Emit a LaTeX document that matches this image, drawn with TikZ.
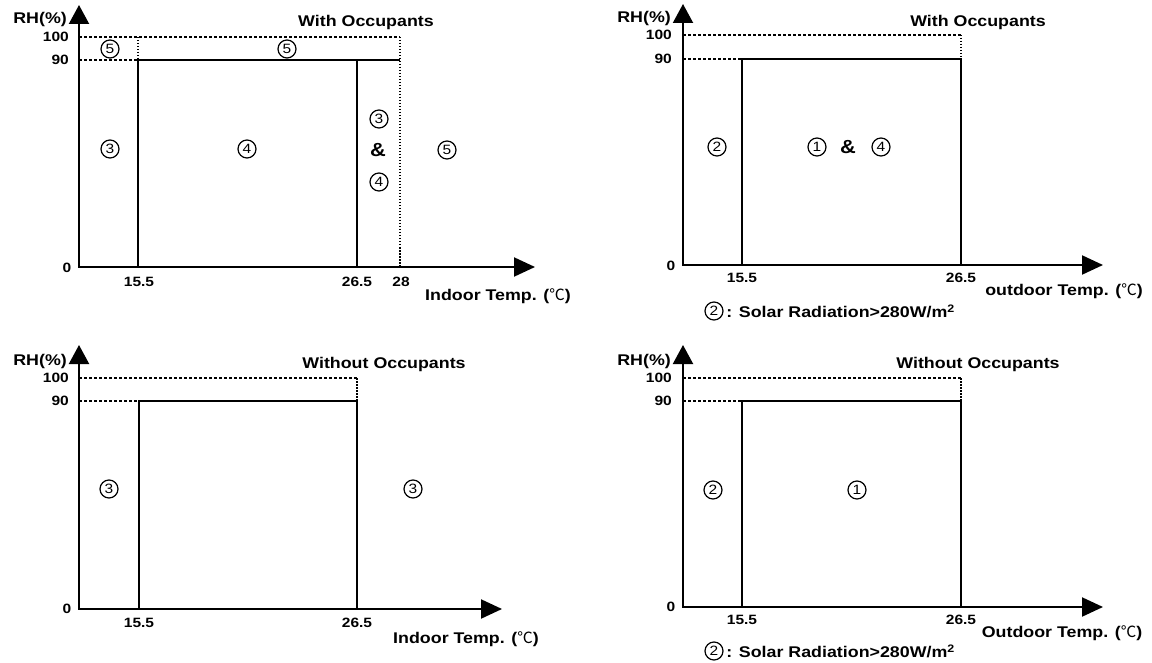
\documentclass[tikz,border=0pt]{standalone}
\usepackage{fontspec}
\setmainfont{Liberation Sans}[FakeStretch=1.15]
\newfontfamily\cjk{Noto Sans CJK SC}
\usetikzlibrary{arrows.meta}
\newcommand{\degC}{{\cjk\mdseries ℃}}
\begin{document}
\begin{tikzpicture}[x=1pt,y=-1pt,
  axis/.style={line width=2.1pt,{Triangle[length=19pt,width=20pt]}-{Triangle[length=21pt,width=19pt]}},
  box/.style={line width=2.1pt},
  guide/.style={line width=1.5pt,dash pattern=on 3pt off 2pt},
  dotline/.style={line width=1.6pt,dash pattern=on 1.5pt off 1.5pt},
  lbl/.style={font=\bfseries\fontsize{15.5}{16}\selectfont,inner sep=0pt},
  num/.style={font=\bfseries\fontsize{13.5}{14}\selectfont,inner sep=0pt},
  zone/.style={circle,draw,line width=1.2pt,minimum size=18pt,inner sep=0pt,font=\fontsize{13.5}{14}\selectfont},
  amp/.style={font=\bfseries\fontsize{19}{20}\selectfont,inner sep=0pt}]
\useasboundingbox (0,0) rectangle (1152,663);

% ---------- indoor, with occupants ----------
\coordinate (Ao) at (79,267);
\coordinate (Ay) at (79,5);
\coordinate (Ax) at (535,267);
\draw[guide] (79,37) -- (400,37);
\draw[guide] (79,60) -- (138,60);
\draw[dotline] (138,37) -- (138,60);
\draw[dotline] (400,37) -- (400,267);
\draw[box] (138,267) -- (138,60) -- (400,60);
\draw[box] (357,60) -- (357,267);
\draw[axis] (Ay) -- (Ao) -- (Ax);
\node[lbl,anchor=east] (Arh) at (67,19) {RH(\%)};
\node[num,anchor=east] (A100) at (69,37) {100};
\node[num,anchor=east] (A90) at (69,60) {90};
\node[num] (A0) at (67,268) {0};
\node[num] (A155) at (139,282) {15.5};
\node[num] (A265) at (357,282) {26.5};
\node[num] (A28) at (401,282) {28};
\node[lbl] (Axl) at (498,296) {Indoor Temp. (\degC)};
\node[lbl] (Ath) at (366,22) {With Occupants};
\node[zone] (Az1) at (110,49) {5};
\node[zone] (Az2) at (287,49) {5};
\node[zone] (Az3) at (110,149) {3};
\node[zone] (Az4) at (247,149) {4};
\node[zone] (Az5) at (379,119) {3};
\node[amp] (Aamp) at (378,150) {\&};
\node[zone] (Az6) at (379,182) {4};
\node[zone] (Az7) at (447,150) {5};

% ---------- outdoor, with occupants ----------
\coordinate (Bo) at (683,265);
\coordinate (By) at (683,4);
\coordinate (Bx) at (1103,265);
\draw[guide] (683,35) -- (961,35);
\draw[guide] (683,59) -- (742,59);
\draw[dotline] (961,35) -- (961,59);
\draw[box] (742,265) -- (742,59) -- (961,59) -- (961,265);
\draw[axis] (By) -- (Bo) -- (Bx);
\node[lbl,anchor=east] (Brh) at (671,18) {RH(\%)};
\node[num,anchor=east] (B100) at (672,35) {100};
\node[num,anchor=east] (B90) at (672,59) {90};
\node[num] (B0) at (671,266) {0};
\node[num] (B155) at (742,278) {15.5};
\node[num] (B265) at (961,278) {26.5};
\node[lbl] (Bxl) at (1064,291) {outdoor Temp. (\degC)};
\node[lbl] (Bth) at (978,22) {With Occupants};
\node[zone] (Bz1) at (717,147) {2};
\node[zone] (Bz2) at (817,147) {1};
\node[amp] (Bamp) at (848,147) {\&};
\node[zone] (Bz3) at (881,147) {4};
\node[zone] (Bnz) at (714,311) {2};
\node[lbl,anchor=west] (Bnote) at (Bnz.east) {\,: Solar Radiation>280W/m\textsuperscript{2}};

% ---------- indoor, without occupants ----------
\coordinate (Co) at (79,609);
\coordinate (Cy) at (79,345);
\coordinate (Cx) at (502,609);
\draw[guide] (79,378) -- (357,378);
\draw[guide] (79,401) -- (139,401);
\draw[dotline] (357,378) -- (357,401);
\draw[box] (139,609) -- (139,401) -- (357,401) -- (357,609);
\draw[axis] (Cy) -- (Co) -- (Cx);
\node[lbl,anchor=east] (Crh) at (67,361) {RH(\%)};
\node[num,anchor=east] (C100) at (69,378) {100};
\node[num,anchor=east] (C90) at (69,401) {90};
\node[num] (C0) at (67,609) {0};
\node[num] (C155) at (139,623) {15.5};
\node[num] (C265) at (357,623) {26.5};
\node[lbl] (Cxl) at (466,639) {Indoor Temp. (\degC)};
\node[lbl] (Cth) at (384,364) {Without Occupants};
\node[zone] (Cz1) at (109,489) {3};
\node[zone] (Cz2) at (413,489) {3};

% ---------- outdoor, without occupants ----------
\coordinate (Do) at (683,607);
\coordinate (Dy) at (683,345);
\coordinate (Dx) at (1103,607);
\draw[guide] (683,378) -- (961,378);
\draw[guide] (683,401) -- (742,401);
\draw[dotline] (961,378) -- (961,401);
\draw[box] (742,607) -- (742,401) -- (961,401) -- (961,607);
\draw[axis] (Dy) -- (Do) -- (Dx);
\node[lbl,anchor=east] (Drh) at (671,361) {RH(\%)};
\node[num,anchor=east] (D100) at (672,378) {100};
\node[num,anchor=east] (D90) at (672,401) {90};
\node[num] (D0) at (671,607) {0};
\node[num] (D155) at (742,620) {15.5};
\node[num] (D265) at (961,620) {26.5};
\node[lbl] (Dxl) at (1062,633) {Outdoor Temp. (\degC)};
\node[lbl] (Dth) at (978,364) {Without Occupants};
\node[zone] (Dz1) at (713,490) {2};
\node[zone] (Dz2) at (857,490) {1};
\node[zone] (Dnz) at (714,651) {2};
\node[lbl,anchor=west] (Dnote) at (Dnz.east) {\,: Solar Radiation>280W/m\textsuperscript{2}};
\end{tikzpicture}
\end{document}
